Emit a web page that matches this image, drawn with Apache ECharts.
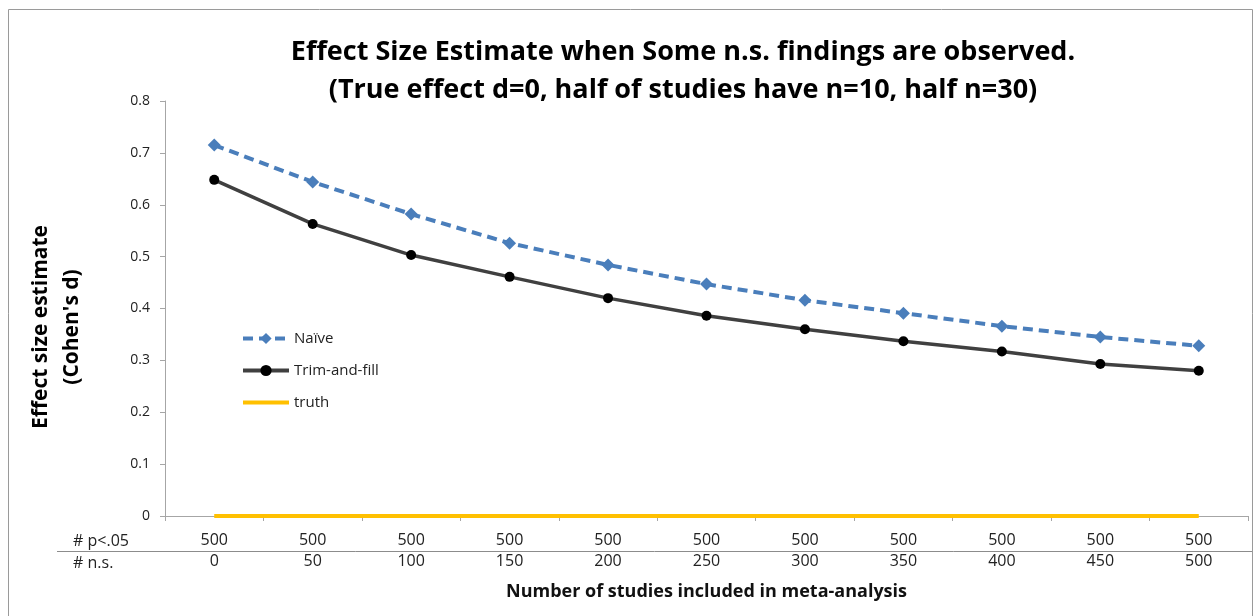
<!DOCTYPE html>
<html>
<head>
<meta charset="utf-8">
<script src="https://cdn.jsdelivr.net/npm/echarts@6/dist/echarts.min.js"></script>
<style>html,body{margin:0;padding:0;background:#fff;}#c{width:1255px;height:616px;}</style>
</head>
<body>
<div id="c"></div>
<script>
var nsCounts = ['0','50','100','150','200','250','300','350','400','450','500'];
var pCounts = ['500','500','500','500','500','500','500','500','500','500','500'];
var naive = [0.715,0.644,0.582,0.526,0.484,0.447,0.416,0.391,0.366,0.345,0.328];
var trimFill = [0.648,0.563,0.503,0.461,0.420,0.386,0.360,0.337,0.317,0.293,0.280];
var truth = [0,0,0,0,0,0,0,0,0,0,0];
var yTicks = [0,0.1,0.2,0.3,0.4,0.5,0.6,0.7,0.8];

var FONT = '"Open Sans", Lato, sans-serif';
var chart = echarts.init(document.getElementById('c'));
chart.setOption({
  animation: false,
  textStyle: {fontFamily: FONT},
  grid: {left: 165, right: 7, top: 101, bottom: 100, containLabel: false},
  legend: {
    orient: 'vertical', left: 236, top: 326,
    itemWidth: 46, itemHeight: 14, itemGap: 17,
    textStyle: {fontSize: 15, color: '#222', fontFamily: FONT},
    data: [
      {name: 'Naïve', lineStyle: {width: 4}},
      {name: 'Trim-and-fill', lineStyle: {width: 4}},
      {name: 'truth', itemStyle: {opacity: 0}, lineStyle: {width: 4}}
    ]
  },
  xAxis: {
    type: 'category',
    data: nsCounts.map(function(n, i){ return pCounts[i] + '|' + n; }),
    boundaryGap: true,
    axisLine: {lineStyle: {color: '#a6a6a6', width: 1}},
    axisTick: {show: true, length: 5, lineStyle: {color: '#a6a6a6'}},
    axisLabel: {
      margin: 14, interval: 0,
      formatter: function(v){ var p = v.split('|'); return '{a|' + p[0] + '}\n{a|' + p[1] + '}'; },
      rich: {a: {fontSize: 16, lineHeight: 21, color: '#222', fontFamily: FONT}}
    },
    name: 'Number of studies included in meta-analysis',
    nameLocation: 'middle', nameGap: 76,
    nameTextStyle: {fontSize: 18, fontWeight: 'bold', color: '#111', verticalAlign: 'middle', fontFamily: FONT}
  },
  yAxis: {
    type: 'value', min: 0, max: 0.8, interval: 0.1,
    axisLine: {show: true, lineStyle: {color: '#a6a6a6', width: 1}},
    axisTick: {show: true, length: 5, lineStyle: {color: '#a6a6a6'}},
    splitLine: {show: false},
    axisLabel: {
      margin: 15, fontSize: 14, color: '#222', fontFamily: FONT,
      formatter: function(v){ var t = yTicks.filter(function(k){return Math.abs(k-v)<1e-9;}); return t.length ? String(t[0]) : ''; }
    }
  },
  series: [
    {name: 'Naïve', type: 'line', data: naive, symbol: 'diamond', symbolSize: 13,
     lineStyle: {color: '#4a7ebb', width: 4, type: [10, 6]}, itemStyle: {color: '#4a7ebb'}, z: 3},
    {name: 'Trim-and-fill', type: 'line', data: trimFill, symbol: 'circle', symbolSize: 10,
     lineStyle: {color: '#404040', width: 3.5}, itemStyle: {color: '#000'}, z: 2},
    {name: 'truth', type: 'line', data: truth, symbol: 'none',
     lineStyle: {color: '#ffc000', width: 4}, itemStyle: {color: '#ffc000'}, z: 1}
  ],
  graphic: [
    {type: 'rect', shape: {x: 8.5, y: 9.5, width: 1244, height: 640}, style: {fill: 'none', stroke: '#9a9a9a', lineWidth: 1}, z: 0, silent: true},
    {type: 'line', shape: {x1: 57, y1: 551.5, x2: 1252, y2: 551.5}, style: {stroke: '#8c8c8c', lineWidth: 1}},
    {type: 'text', x: 73, y: 541, style: {text: '# p<.05', fontSize: 16, fill: '#222', fontFamily: FONT, verticalAlign: 'middle'}},
    {type: 'text', x: 73, y: 563, style: {text: '# n.s.', fontSize: 16, fill: '#222', fontFamily: FONT, verticalAlign: 'middle'}},
    {type: 'text', x: 683, y: 71, style: {text: 'Effect Size Estimate when Some n.s. findings are observed.\n(True effect d=0, half of studies have n=10, half n=30)',
      fontSize: 27, fontWeight: 'bold', fill: '#000', align: 'center', verticalAlign: 'middle', lineHeight: 38, fontFamily: FONT}},
    {type: 'text', x: 57, y: 327, rotation: Math.PI/2, style: {text: 'Effect size estimate\n(Cohen\'s d)',
      fontSize: 21, fontWeight: 'bold', fill: '#000', align: 'center', verticalAlign: 'middle', lineHeight: 31, fontFamily: FONT}}
  ]
});
</script>
</body>
</html>
